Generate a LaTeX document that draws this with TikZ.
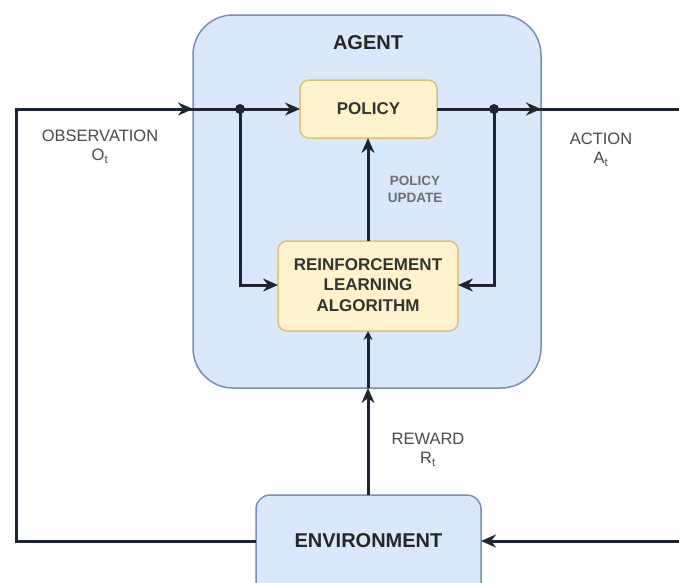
\documentclass[tikz,border=0pt]{standalone}
\usepackage{fontspec}
\setmainfont{Liberation Sans}
\usetikzlibrary{arrows.meta}
\definecolor{agentfill}{HTML}{DAE8FC}
\definecolor{agentline}{HTML}{7A90B0}
\definecolor{boxfill}{HTML}{FFF2CC}
\definecolor{boxline}{HTML}{D9C27A}
\definecolor{wire}{HTML}{1E2530}
\definecolor{labelgrey}{HTML}{4A4A4A}
\begin{document}
\begin{tikzpicture}[x=1pt,y=-1pt,
  agentbox/.style={draw=agentline,fill=agentfill,line width=1.5pt,rounded corners=40pt},
  envbox/.style={draw=agentline,fill=agentfill,line width=1.5pt,rounded corners=14pt},
  yellowbox/.style={draw=boxline,fill=boxfill,line width=1.5pt,rounded corners=9pt},
  boxtext/.style={font=\fontsize{17}{20.5}\selectfont\bfseries,text=black!80,align=center},
  titletext/.style={font=\fontsize{20}{24}\selectfont\bfseries,text=black!85},
  sidelabel/.style={font=\fontsize{16.5}{19}\selectfont,text=labelgrey,align=center},
  smalllabel/.style={font=\fontsize{13.5}{17}\selectfont\bfseries,text=labelgrey!80,align=center},
  wireline/.style={draw=wire,line width=3pt},
  arr/.style={wireline,-{Stealth[length=15pt,width=13pt,inset=5pt]}},
  smallarr/.style={wireline,-{Stealth[length=9pt,width=9pt,inset=3pt]}},
  junction/.style={circle,fill=wire,inner sep=0pt,minimum size=10pt}
]
\useasboundingbox (0,0) rectangle (679,582);
\clip (0,0) rectangle (679,582);
\fill[white] (0,0) rectangle (679,582);

% agent container
\draw[agentbox] (193,15) rectangle (541,388);
\coordinate (agentL) at (193,109);
\coordinate (agentR) at (541,109);
\coordinate (agentB) at (368,388);
\node[titletext] (agent) at (368,43) {AGENT};

% boxes
\draw[yellowbox] (300,80) rectangle (437,138);
\node[boxtext] (policy) at (368.5,109) {POLICY};
\coordinate (policyL) at (300,109);
\coordinate (policyR) at (437,109);
\coordinate (policyB) at (368,138);

\draw[yellowbox] (278,241) rectangle (458,331);
\node[boxtext] (rl) at (368,285) {REINFORCEMENT\\LEARNING\\ALGORITHM};
\coordinate (rlL) at (278,285);
\coordinate (rlR) at (458,285);
\coordinate (rlT) at (368,241);
\coordinate (rlB) at (368,331);

\draw[envbox] (256,495) rectangle (481,598);
\node[titletext] (env) at (368.5,541) {ENVIRONMENT};
\coordinate (envL) at (256,541);
\coordinate (envR) at (481,541);
\coordinate (envT) at (368,495);

% junctions and corner points
\coordinate (j1) at (240,109);
\coordinate (j2) at (494,109);
\coordinate (cornerTL) at (16,109);
\coordinate (cornerBL) at (16,541);
\coordinate (outR) at (682,109);
\coordinate (inR) at (682,541);

% observation path
\draw[wireline] (envL) -- (cornerBL) -- (cornerTL) -- (agentL);
\draw[arr] (cornerTL) -- (agentL);
\draw[arr] (agentL) -- (policyL);
\draw[arr] (j1) |- (rlL);

% action path
\draw[wireline] (policyR) -- (outR);
\draw[arr] (policyR) -- (agentR);
\draw[arr] (j2) |- (rlR);
\draw[arr] (inR) -- (envR);

% policy update
\draw[arr] (rlT) -- (policyB);

% reward
\draw[arr] (envT) -- (agentB);
\draw[smallarr] (agentB) -- (rlB);

\node[junction] (dot1) at (j1) {};
\node[junction] (dot2) at (j2) {};

% labels
\node[sidelabel] (obs) at (100,147) {OBSERVATION\\O\textsubscript{t}};
\node[sidelabel] (act) at (601,150) {ACTION\\A\textsubscript{t}};
\node[sidelabel] (rew) at (428,450) {REWARD\\R\textsubscript{t}};
\node[smalllabel] (upd) at (415,189) {POLICY\\UPDATE};
\end{tikzpicture}
\end{document}
